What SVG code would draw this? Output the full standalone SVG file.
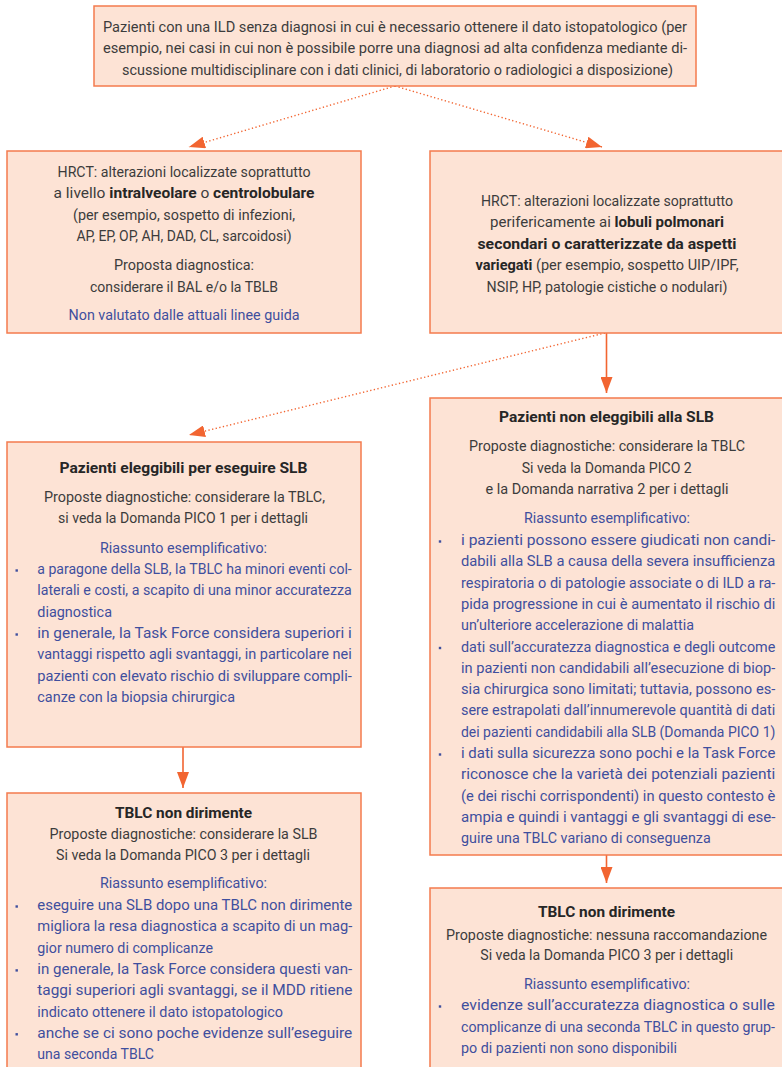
<svg xmlns="http://www.w3.org/2000/svg" width="782" height="1067" viewBox="0 0 782 1067">
<style>
.box{fill:#fde3d5;stroke:#f47b4d;stroke-width:1.5}
.t{font-family:Roboto,"Liberation Sans",sans-serif;font-size:15.5px;fill:#3c3c3c}
.c{text-anchor:middle}
.b{font-weight:bold;fill:#262626}
.bl{fill:#3f4f9e}
.bu{fill:#3f4f9e}
.sol{stroke:#f26531;stroke-width:1.6;fill:none}
.dot{stroke:#f26531;stroke-width:1.4;fill:none;stroke-dasharray:1.3 2.4}
</style>
<defs>
<marker id="ah" markerUnits="userSpaceOnUse" markerWidth="16" markerHeight="12" refX="16" refY="6" orient="auto">
<path d="M0,0 L16,6 L0,12 z" fill="#f26531"/>
</marker>
</defs>

<g id="connectors">
<path class="dot" d="M395,86 L189,147" marker-end="url(#ah)"/>
<path class="dot" d="M395,86 L602,147" marker-end="url(#ah)"/>
<path class="dot" d="M605,333 L189,435" marker-end="url(#ah)"/>
<path class="sol" d="M606.5,333 L606.5,393" marker-end="url(#ah)"/>
<path class="sol" d="M183,747 L183,788" marker-end="url(#ah)"/>
<path class="sol" d="M606.5,855 L606.5,883" marker-end="url(#ah)"/>
</g>

<g id="n_top">
<rect class="box" x="94" y="6" width="602" height="80"/>
<text class="t" transform="translate(103,31.5) scale(0.93,1)" textLength="628" lengthAdjust="spacingAndGlyphs">Pazienti con una ILD senza diagnosi in cui è necessario ottenere il dato istopatologico (per</text>
<text class="t" transform="translate(103,53) scale(0.93,1)" textLength="628" lengthAdjust="spacingAndGlyphs">esempio, nei casi in cui non è possibile porre una diagnosi ad alta confidenza mediante di-</text>
<text class="t c" transform="translate(397.5,74.5) scale(0.93,1)" textLength="592.5" lengthAdjust="spacingAndGlyphs">scussione multidisciplinare con i dati clinici, di laboratorio o radiologici a disposizione)</text>
</g>

<g id="n_hrct_left">
<rect class="box" x="7" y="151" width="354" height="182"/>
<text class="t c" transform="translate(184,176.7) scale(0.93,1)" textLength="272" lengthAdjust="spacingAndGlyphs">HRCT: alterazioni localizzate soprattutto</text>
<text class="t c" transform="translate(184,198.3) scale(0.93,1)" textLength="280.6" lengthAdjust="spacingAndGlyphs">a livello <tspan class="b">intralveolare</tspan> o <tspan class="b">centrolobulare</tspan></text>
<text class="t c" transform="translate(184,220) scale(0.93,1)" textLength="238.7" lengthAdjust="spacingAndGlyphs">(per esempio, sospetto di infezioni,</text>
<text class="t c" transform="translate(184,241) scale(0.93,1)" textLength="231.2" lengthAdjust="spacingAndGlyphs">AP, EP, OP, AH, DAD, CL, sarcoidosi)</text>
<text class="t c" transform="translate(184,269.5) scale(0.93,1)" textLength="150.5" lengthAdjust="spacingAndGlyphs">Proposta diagnostica:</text>
<text class="t c" transform="translate(184,291.5) scale(0.93,1)" textLength="202.2" lengthAdjust="spacingAndGlyphs">considerare il BAL e/o la TBLB</text>
<text class="t c bl" transform="translate(184,320) scale(0.93,1)" textLength="248.4" lengthAdjust="spacingAndGlyphs">Non valutato dalle attuali linee guida</text>
</g>

<g id="n_hrct_right">
<rect class="box" x="430" y="151" width="353" height="182"/>
<text class="t c" transform="translate(607,205.7) scale(0.93,1)" textLength="271" lengthAdjust="spacingAndGlyphs">HRCT: alterazioni localizzate soprattutto</text>
<text class="t c" transform="translate(607,227.3) scale(0.93,1)" textLength="251.6" lengthAdjust="spacingAndGlyphs">perifericamente ai <tspan class="b">lobuli polmonari</tspan></text>
<text class="t c b" transform="translate(607,248.7) scale(0.93,1)" textLength="278.5" lengthAdjust="spacingAndGlyphs">secondari o caratterizzate da aspetti</text>
<text class="t c" transform="translate(607,270.2) scale(0.93,1)" textLength="282.8" lengthAdjust="spacingAndGlyphs"><tspan class="b">variegati</tspan> (per esempio, sospetto UIP/IPF,</text>
<text class="t c" transform="translate(607,291.7) scale(0.93,1)" textLength="259.1" lengthAdjust="spacingAndGlyphs">NSIP, HP, patologie cistiche o nodulari)</text>
</g>

<g id="n_eleggibili">
<rect class="box" x="7" y="442" width="354" height="305"/>
<text class="t c b" transform="translate(183.5,473) scale(0.93,1)" textLength="266.7" lengthAdjust="spacingAndGlyphs">Pazienti eleggibili per eseguire SLB</text>
<text class="t c" transform="translate(184.5,502) scale(0.93,1)" textLength="302.2" lengthAdjust="spacingAndGlyphs">Proposte diagnostiche: considerare la TBLC,</text>
<text class="t c" transform="translate(183,523) scale(0.93,1)" textLength="268.8" lengthAdjust="spacingAndGlyphs">si veda la Domanda PICO 1 per i dettagli</text>
<text class="t c bl" transform="translate(183.5,552.5) scale(0.93,1)" textLength="179.6" lengthAdjust="spacingAndGlyphs">Riassunto esemplificativo:</text>
<rect class="bu" x="15.5" y="569.3" width="2.4" height="2.4"/>
<rect class="bu" x="15.5" y="633.3" width="2.4" height="2.4"/>
<text class="t bl" transform="translate(37.3,574) scale(0.93,1)" textLength="338.1" lengthAdjust="spacingAndGlyphs">a paragone della SLB, la TBLC ha minori eventi col-</text>
<text class="t bl" transform="translate(37.3,595.3) scale(0.93,1)" textLength="338.1" lengthAdjust="spacingAndGlyphs">laterali e costi, a scapito di una minor accuratezza</text>
<text class="t bl" transform="translate(37.3,616.6) scale(0.93,1)" textLength="80.3" lengthAdjust="spacingAndGlyphs">diagnostica</text>
<text class="t bl" transform="translate(37.3,638) scale(0.93,1)" textLength="338.1" lengthAdjust="spacingAndGlyphs">in generale, la Task Force considera superiori i</text>
<text class="t bl" transform="translate(37.3,659.3) scale(0.93,1)" textLength="338.1" lengthAdjust="spacingAndGlyphs">vantaggi rispetto agli svantaggi, in particolare nei</text>
<text class="t bl" transform="translate(37.3,680.6) scale(0.93,1)" textLength="338.1" lengthAdjust="spacingAndGlyphs">pazienti con elevato rischio di sviluppare compli-</text>
<text class="t bl" transform="translate(37.3,702) scale(0.93,1)" textLength="212.6" lengthAdjust="spacingAndGlyphs">canze con la biopsia chirurgica</text>
</g>

<g id="n_non_eleggibili">
<rect class="box" x="430" y="398" width="353" height="457"/>
<text class="t c b" transform="translate(606.5,422) scale(0.93,1)" textLength="231.2" lengthAdjust="spacingAndGlyphs">Pazienti non eleggibili alla SLB</text>
<text class="t c" transform="translate(607,451) scale(0.93,1)" textLength="296.8" lengthAdjust="spacingAndGlyphs">Proposte diagnostiche: considerare la TBLC</text>
<text class="t c" transform="translate(606.7,472.5) scale(0.93,1)" textLength="182.8" lengthAdjust="spacingAndGlyphs">Si veda la Domanda PICO 2</text>
<text class="t c" transform="translate(607,494) scale(0.93,1)" textLength="261.3" lengthAdjust="spacingAndGlyphs">e la Domanda narrativa 2 per i dettagli</text>
<text class="t c bl" transform="translate(607,523) scale(0.93,1)" textLength="178.5" lengthAdjust="spacingAndGlyphs">Riassunto esemplificativo:</text>
<rect class="bu" x="438.8" y="540.3" width="2.4" height="2.4"/>
<rect class="bu" x="438.8" y="646.8" width="2.4" height="2.4"/>
<rect class="bu" x="438.8" y="753.3" width="2.4" height="2.4"/>
<text class="t bl" transform="translate(461,545) scale(0.93,1)" textLength="338" lengthAdjust="spacingAndGlyphs">i pazienti possono essere giudicati non candi-</text>
<text class="t bl" transform="translate(461,566.3) scale(0.93,1)" textLength="338" lengthAdjust="spacingAndGlyphs">dabili alla SLB a causa della severa insufficienza</text>
<text class="t bl" transform="translate(461,587.6) scale(0.93,1)" textLength="338" lengthAdjust="spacingAndGlyphs">respiratoria o di patologie associate o di ILD a ra-</text>
<text class="t bl" transform="translate(461,608.9) scale(0.93,1)" textLength="338" lengthAdjust="spacingAndGlyphs">pida progressione in cui è aumentato il rischio di</text>
<text class="t bl" transform="translate(461,630.2) scale(0.93,1)" textLength="250.5" lengthAdjust="spacingAndGlyphs">un’ulteriore accelerazione di malattia</text>
<text class="t bl" transform="translate(461,651.5) scale(0.93,1)" textLength="338" lengthAdjust="spacingAndGlyphs">dati sull’accuratezza diagnostica e degli outcome</text>
<text class="t bl" transform="translate(461,672.8) scale(0.93,1)" textLength="338" lengthAdjust="spacingAndGlyphs">in pazienti non candidabili all’esecuzione di biop-</text>
<text class="t bl" transform="translate(461,694.1) scale(0.93,1)" textLength="338" lengthAdjust="spacingAndGlyphs">sia chirurgica sono limitati; tuttavia, possono es-</text>
<text class="t bl" transform="translate(461,715.4) scale(0.93,1)" textLength="338" lengthAdjust="spacingAndGlyphs">sere estrapolati dall’innumerevole quantità di dati</text>
<text class="t bl" transform="translate(461,736.7) scale(0.87,1)" textLength="361.3" lengthAdjust="spacingAndGlyphs">dei pazienti candidabili alla SLB (Domanda PICO 1)</text>
<text class="t bl" transform="translate(461,758) scale(0.93,1)" textLength="338" lengthAdjust="spacingAndGlyphs">i dati sulla sicurezza sono pochi e la Task Force</text>
<text class="t bl" transform="translate(461,779.3) scale(0.93,1)" textLength="338" lengthAdjust="spacingAndGlyphs">riconosce che la varietà dei potenziali pazienti</text>
<text class="t bl" transform="translate(461,800.6) scale(0.93,1)" textLength="338" lengthAdjust="spacingAndGlyphs">(e dei rischi corrispondenti) in questo contesto è</text>
<text class="t bl" transform="translate(461,821.9) scale(0.93,1)" textLength="338" lengthAdjust="spacingAndGlyphs">ampia e quindi i vantaggi e gli svantaggi di ese-</text>
<text class="t bl" transform="translate(461,843.2) scale(0.93,1)" textLength="268.5" lengthAdjust="spacingAndGlyphs">guire una TBLC variano di conseguenza</text>
</g>

<g id="n_tblc_left">
<rect class="box" x="7" y="793" width="354" height="285"/>
<text class="t c b" transform="translate(183.5,817.5) scale(0.93,1)" textLength="147.3" lengthAdjust="spacingAndGlyphs">TBLC non dirimente</text>
<text class="t c" transform="translate(183.5,839) scale(0.93,1)" textLength="288.2" lengthAdjust="spacingAndGlyphs">Proposte diagnostiche: considerare la SLB</text>
<text class="t c" transform="translate(183,860) scale(0.93,1)" textLength="273.1" lengthAdjust="spacingAndGlyphs">Si veda la Domanda PICO 3 per i dettagli</text>
<text class="t c bl" transform="translate(183.5,888) scale(0.93,1)" textLength="179.6" lengthAdjust="spacingAndGlyphs">Riassunto esemplificativo:</text>
<rect class="bu" x="15.5" y="905.3" width="2.4" height="2.4"/>
<rect class="bu" x="15.5" y="969.2" width="2.4" height="2.4"/>
<rect class="bu" x="15.5" y="1033.1" width="2.4" height="2.4"/>
<text class="t bl" transform="translate(37.3,910) scale(0.93,1)" textLength="338.7" lengthAdjust="spacingAndGlyphs">eseguire una SLB dopo una TBLC non dirimente</text>
<text class="t bl" transform="translate(37.3,931.3) scale(0.93,1)" textLength="338.7" lengthAdjust="spacingAndGlyphs">migliora la resa diagnostica a scapito di un mag-</text>
<text class="t bl" transform="translate(37.3,952.6) scale(0.93,1)" textLength="188.9" lengthAdjust="spacingAndGlyphs">gior numero di complicanze</text>
<text class="t bl" transform="translate(37.3,973.9) scale(0.93,1)" textLength="338.7" lengthAdjust="spacingAndGlyphs">in generale, la Task Force considera questi van-</text>
<text class="t bl" transform="translate(37.3,995.2) scale(0.93,1)" textLength="338.7" lengthAdjust="spacingAndGlyphs">taggi superiori agli svantaggi, se il MDD ritiene</text>
<text class="t bl" transform="translate(37.3,1016.5) scale(0.93,1)" textLength="264.2" lengthAdjust="spacingAndGlyphs">indicato ottenere il dato istopatologico</text>
<text class="t bl" transform="translate(37.3,1037.8) scale(0.93,1)" textLength="338.7" lengthAdjust="spacingAndGlyphs">anche se ci sono poche evidenze sull’eseguire</text>
<text class="t bl" transform="translate(37.3,1059.1) scale(0.93,1)" textLength="125.5" lengthAdjust="spacingAndGlyphs">una seconda TBLC</text>
</g>

<g id="n_tblc_right">
<rect class="box" x="430" y="888" width="353" height="190"/>
<text class="t c b" transform="translate(606.5,917) scale(0.93,1)" textLength="147.3" lengthAdjust="spacingAndGlyphs">TBLC non dirimente</text>
<text class="t c" transform="translate(606.5,940) scale(0.93,1)" textLength="345.2" lengthAdjust="spacingAndGlyphs">Proposte diagnostiche: nessuna raccomandazione</text>
<text class="t c" transform="translate(606.7,960) scale(0.93,1)" textLength="272" lengthAdjust="spacingAndGlyphs">Si veda la Domanda PICO 3 per i dettagli</text>
<text class="t c bl" transform="translate(607,989) scale(0.93,1)" textLength="178.5" lengthAdjust="spacingAndGlyphs">Riassunto esemplificativo:</text>
<rect class="bu" x="438.8" y="1005.3" width="2.4" height="2.4"/>
<text class="t bl" transform="translate(461,1010) scale(0.93,1)" textLength="337.6" lengthAdjust="spacingAndGlyphs">evidenze sull’accuratezza diagnostica o sulle</text>
<text class="t bl" transform="translate(461,1031.5) scale(0.93,1)" textLength="337.6" lengthAdjust="spacingAndGlyphs">complicanze di una seconda TBLC in questo grup-</text>
<text class="t bl" transform="translate(461,1052.8) scale(0.93,1)" textLength="232.3" lengthAdjust="spacingAndGlyphs">po di pazienti non sono disponibili</text>
</g>
</svg>
